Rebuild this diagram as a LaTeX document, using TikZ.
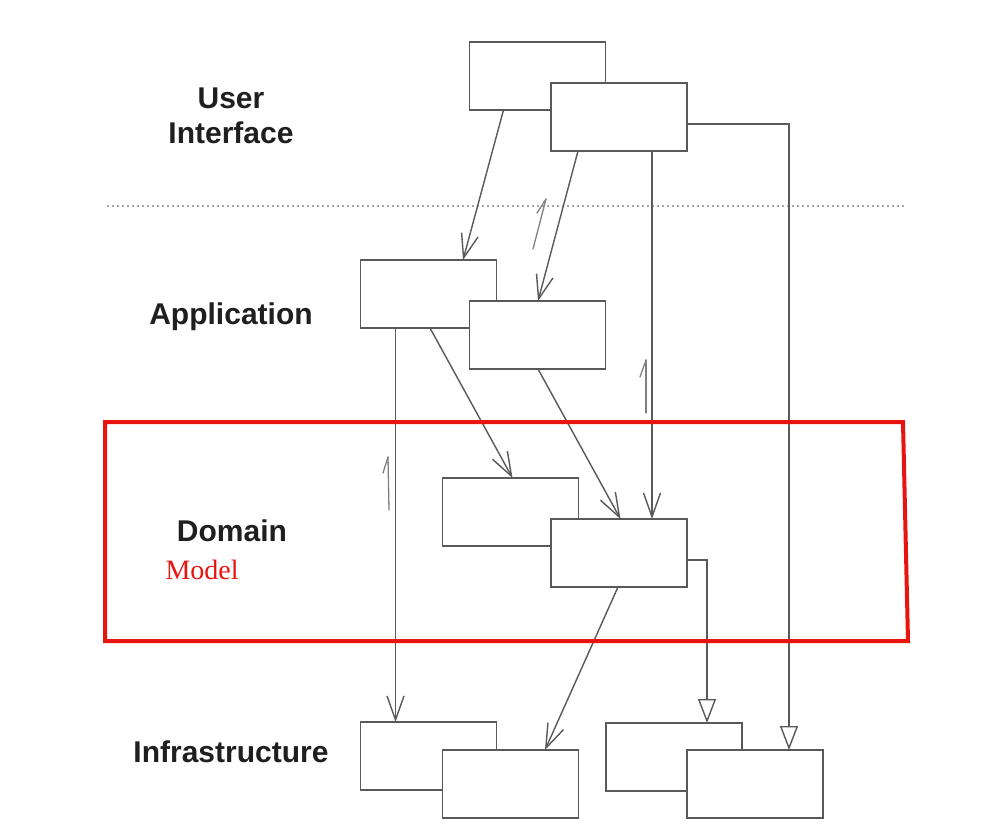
\documentclass[tikz,border=0pt]{standalone}
\usepackage{fontspec}
\newfontfamily\layerfont{Liberation Sans}
\newfontfamily\notefont{Liberation Serif}
\usepackage{tikz}
\usetikzlibrary{arrows.meta}
\usepackage{xcolor}
\definecolor{boxgray}{HTML}{595959}
\definecolor{markred}{HTML}{E8140F}

\begin{document}
\begin{tikzpicture}[x=1pt, y=-1pt,
    classbox/.style={draw=boxgray, line width=1.6pt, fill=white, minimum width=136pt, minimum height=68pt, inner sep=0pt, outer sep=0pt},
    usedep/.style={draw=boxgray, line width=1.4pt, -{Straight Barb[length=24pt, width=17pt, line width=1.4pt]}},
    implof/.style={draw=boxgray, line width=1.4pt, -{Triangle[open, length=24pt, width=18pt, line width=1.4pt]}},
    layer/.style={font=\layerfont\bfseries\fontsize{30}{35}\selectfont, text=black!88, anchor=base, align=center},
    scribble/.style={draw=gray, line width=1.3pt, line cap=round}]
    \fill[white] (0,0) rectangle (996,836);
    \useasboundingbox (0,0) rectangle (996,836);

    % --- Layer names ---
    \node[layer] (uilabel) at (231,143) {User\\Interface};
    \node[layer] (applabel) at (231,324) {Application};
    \node[layer] (domlabel) at (232,541) {Domain};
    \node[layer] (inflabel) at (231,762) {Infrastructure};

    % Layer separator
    \draw[gray!70, line width=2pt, dash pattern=on 2pt off 3pt] (107,206) -- (905,206);

    % --- User interface classes ---
    \node[classbox] (ui1) at (537.5,76) {};
    \node[classbox] (ui2) at (619,117) {};
    % --- Application classes ---
    \node[classbox] (app1) at (428.5,294) {};
    \node[classbox] (app2) at (537.5,335) {};
    % --- Domain classes ---
    \node[classbox] (dom1) at (510.5,512) {};
    \node[classbox] (dom2) at (619,553) {};
    % --- Infrastructure classes ---
    \node[classbox] (inf1) at (428.5,756) {};
    \node[classbox] (inf2) at (510.5,784) {};
    \node[classbox] (inf3) at (674,757) {};
    \node[classbox] (inf4) at (755,784) {};

    % Dependencies (downward only)
    \draw[usedep] ([xshift=-34pt]ui1.south) -- ([xshift=34.5pt]app1.north);
    \draw[usedep] ([xshift=-41pt]ui2.south) -- ([xshift=0.5pt]app2.north);
    \draw[usedep] ([xshift=33pt]ui2.south) -- ([xshift=33pt]dom2.north);
    \draw[implof] ([yshift=-7pt]ui2.east) -| ([xshift=34pt]inf4.north);
    \draw[usedep] ([xshift=-33pt]app1.south) -- ([xshift=-33pt]inf1.north);
    \draw[usedep] ([xshift=1.5pt]app1.south) -- ([xshift=2pt]dom1.north);
    \draw[usedep] ([xshift=0.5pt]app2.south) -- ([xshift=1.5pt]dom2.north);
    \draw[implof] ([yshift=-7pt]dom2.east) -| ([xshift=33pt]inf3.north);
    \draw[usedep] ([xshift=-1pt]dom2.south) -- ([xshift=34.5pt]inf2.north);

    % Hand-drawn marks
    \draw[scribble] (546,199) -- (533,249);
    \draw[scribble] (546,199) -- (537,213);
    \draw[scribble] (646,360) -- (646,413);
    \draw[scribble] (646,360) -- (640,377);
    \draw[scribble] (388,457) -- (389,510);
    \draw[scribble] (388,457) -- (383,473);

    % Highlighted domain model
    \draw[markred, line width=4pt, line join=miter] (105,422) -- (903,422) -- (908,641) -- (105,641) -- cycle;
    \node[font=\notefont\fontsize{28}{32}\selectfont, text=markred, anchor=base west] (modelnote) at (162,579) {Model};
\end{tikzpicture}
\end{document}
